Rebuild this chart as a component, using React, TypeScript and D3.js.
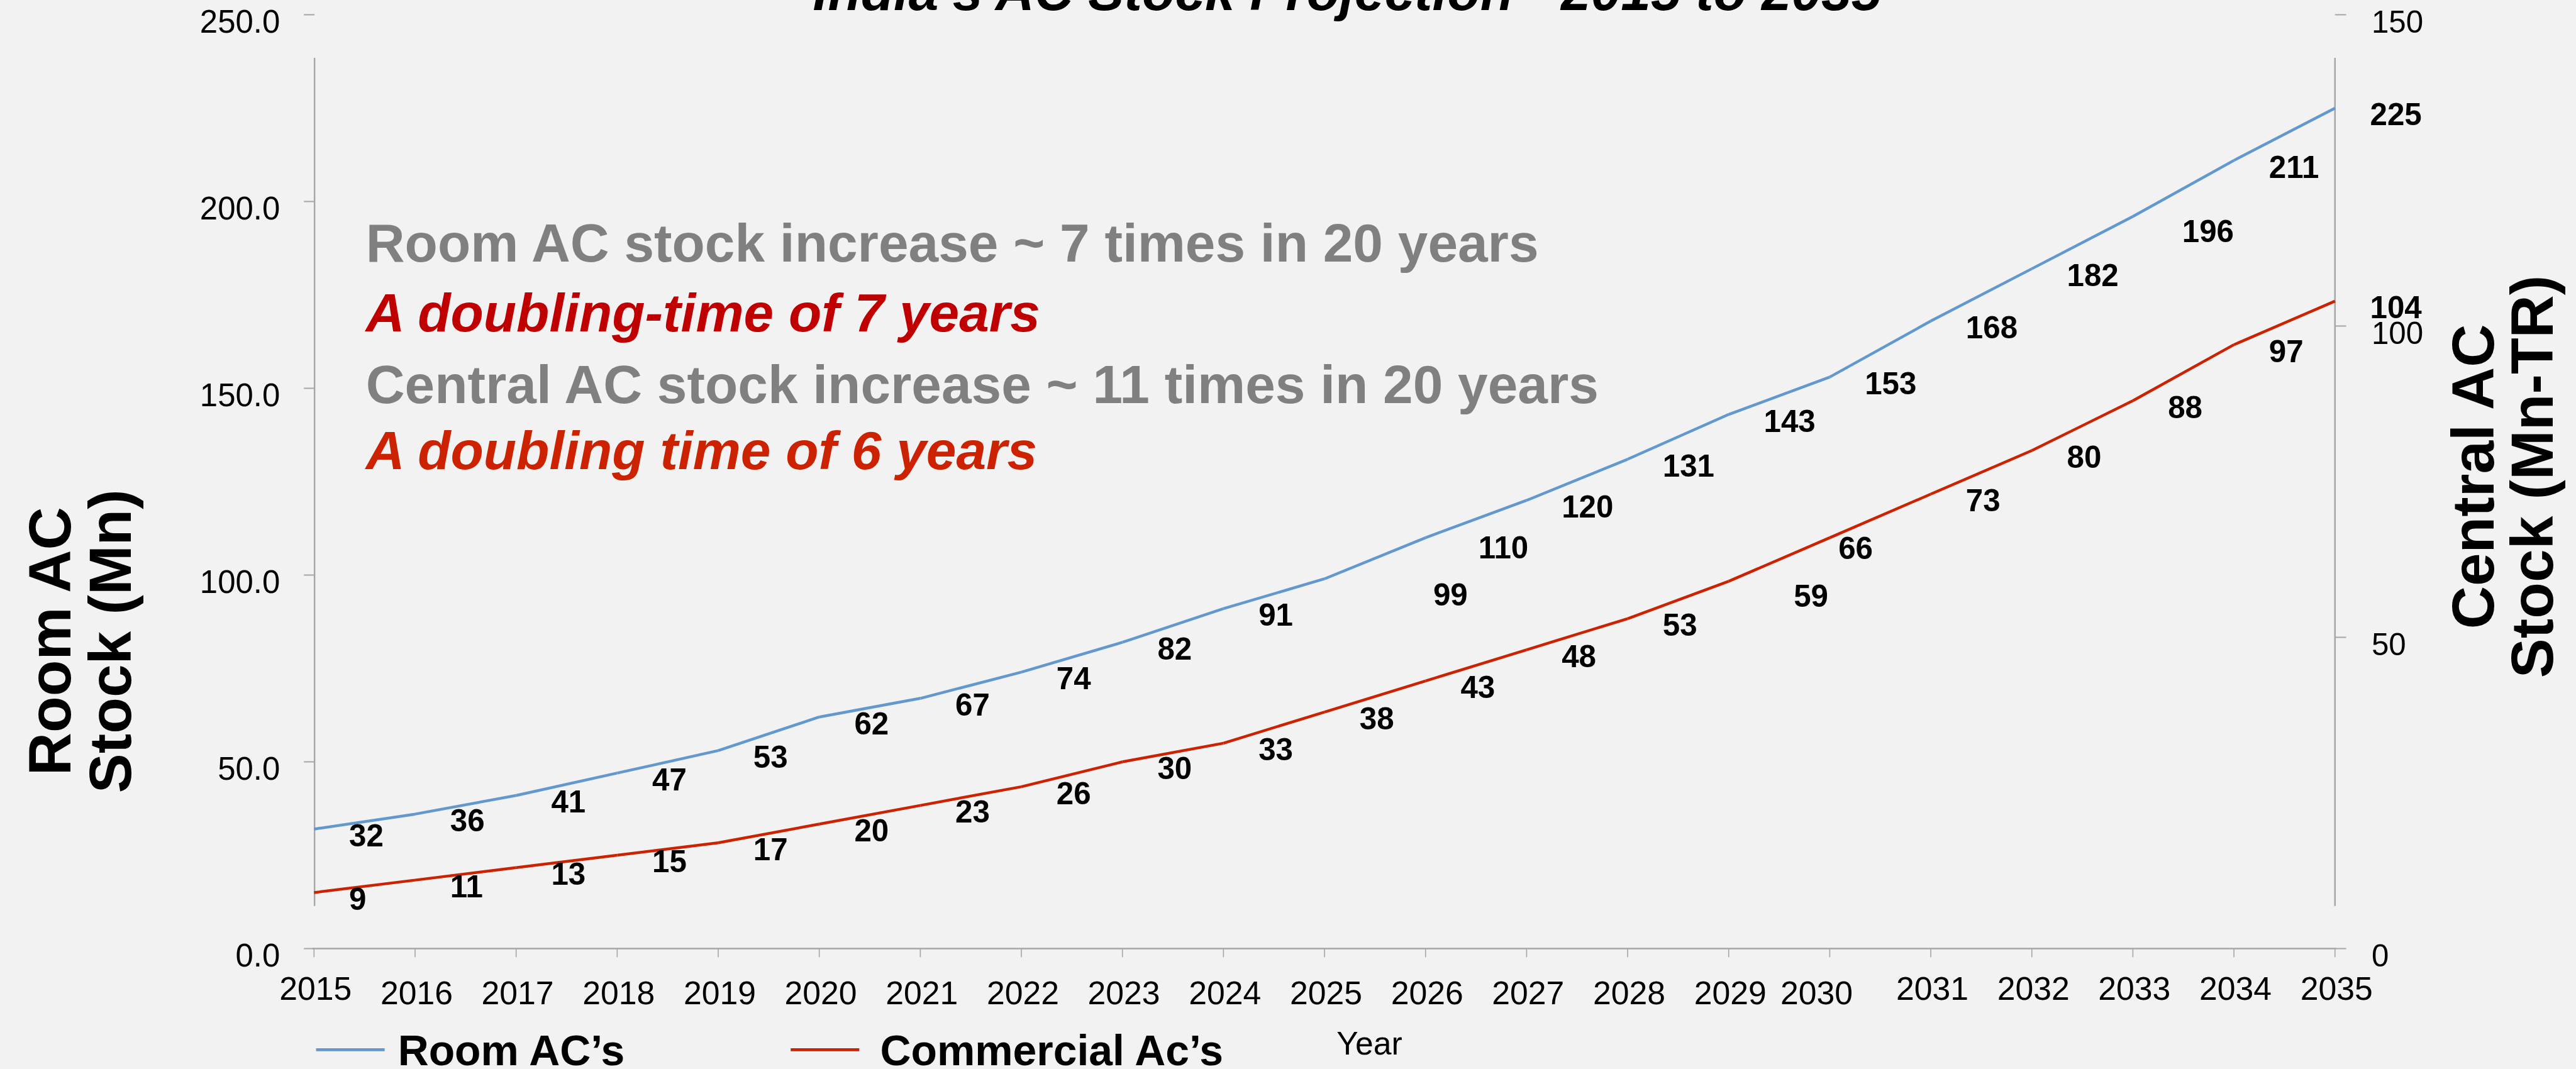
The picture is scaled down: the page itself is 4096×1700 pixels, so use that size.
import React from "react";
import * as d3 from "d3";

// ---- data ----
const years = [2015, 2016, 2017, 2018, 2019, 2020, 2021, 2022, 2023, 2024, 2025, 2026, 2027, 2028, 2029, 2030, 2031, 2032, 2033, 2034, 2035];
const roomAC = [32, 36, 41, 47, 53, 62, 67, 74, 82, 91, 99, 110, 120, 131, 143, 153, 168, 182, 196, 211, 225];
const commercialAC = [9, 11, 13, 15, 17, 20, 23, 26, 30, 33, 38, 43, 48, 53, 59, 66, 73, 80, 88, 97, 104];
const leftTicks = [0, 50, 100, 150, 200, 250];
const rightTicks = [0, 50, 100, 150];
const titleText = "India\u2019s AC Stock Projection - 2015 to 2035";
const notes = [
  "Room AC stock increase ~ 7 times in 20 years",
  "A doubling-time of 7 years",
  "Central AC stock increase ~ 11 times in 20 years",
  "A doubling time of 6 years",
];
const seriesNames = ["Room AC\u2019s", "Commercial Ac\u2019s"];

// ---- layout (reference pixel space, scaled by S) ----
const S = 0.808;
const FONT = "'Liberation Sans', Arial, Helvetica, sans-serif";
const BLUE = "#6398CE";
const RED = "#CC2200";
const AXIS = "#A6A6A6";
const noteStyles = [
  { fill: "#808080", italic: false },
  { fill: "#C00000", italic: true },
  { fill: "#808080", italic: false },
  { fill: "#CC2200", italic: true },
];
// manual nudges of a few data labels (dx, dy) as in the source
const roomNudge: Record<number, [number, number]> = { 2025: [145, 19], 2026: [35, 7], 2033: [28, 16] };
const comNudge: Record<number, [number, number]> = { 2029: [59, 16], 2030: [-52, 8] };
const raisedYearLabels = new Set([2015, 2031, 2032, 2033, 2034, 2035]);

export default function App() {
  const x = d3.scaleLinear().domain([2015, 2035]).range([618, 4595]);
  const yL = d3.scaleLinear().domain([0, 250]).range([1867, 29]);
  const yR = d3.scaleLinear().domain([0, 150]).range([1867, 29]);
  const fmt = d3.format(".1f");
  const seg = d3.line<[number, number]>();

  const segments = (vals: number[], y: d3.ScaleLinear<number, number>, color: string, key: string) =>
    vals.slice(0, -1).map((v, i) => (
      <path
        key={key + i}
        d={seg([[x(years[i]), y(v)], [x(years[i + 1]), y(vals[i + 1])]]) || ""}
        stroke={color}
        strokeWidth={5.5}
        fill="none"
        strokeLinecap="butt"
      />
    ));

  const labels = (vals: number[], y: d3.ScaleLinear<number, number>, nudge: Record<number, [number, number]>, key: string) =>
    vals.map((v, i) => {
      const n = nudge[years[i]] || [0, 0];
      return (
        <text
          key={key + i}
          x={x(years[i]) + 69 + n[0]}
          y={y(v) + 34 + n[1]}
          fontSize={61}
          fontWeight="bold"
          fill="#000"
        >
          {v}
        </text>
      );
    });

  return (
    <svg
      width={4096}
      height={1700}
      style={{ position: "absolute", left: 0, top: 0, display: "block" }}
    >
      <rect x={0} y={0} width={4096} height={1700} fill="#F2F2F2" />
      <g transform={`scale(${S})`} fontFamily={FONT}>
        {/* title (mostly above the top edge) */}
        <text x={2651} y={20} fontSize={106} fontWeight="bold" fontStyle="italic" textAnchor="middle" fill="#000">
          {titleText}
        </text>

        {/* axes */}
        <line x1={619} x2={619} y1={114} y2={1783} stroke={AXIS} strokeWidth={3} />
        <line x1={4595} x2={4595} y1={114} y2={1783} stroke={AXIS} strokeWidth={3} />
        <line x1={615} x2={4597} y1={x.range()[0] ? 1867 : 1867} y2={1867} stroke={AXIS} strokeWidth={3} />
        {leftTicks.map((t) => (
          <g key={"lt" + t}>
            <line x1={598} x2={619} y1={yL(t)} y2={yL(t)} stroke={AXIS} strokeWidth={2.5} />
            <text x={551} y={yL(t) + 35} fontSize={63} textAnchor="end" fill="#000">
              {fmt(t)}
            </text>
          </g>
        ))}
        {rightTicks.map((t) => (
          <g key={"rt" + t}>
            <line x1={4595} x2={4617} y1={yR(t)} y2={yR(t)} stroke={AXIS} strokeWidth={2.5} />
            <text x={4667} y={yR(t) + 35} fontSize={61} textAnchor="start" fill="#000">
              {t}
            </text>
          </g>
        ))}
        {years.map((yr) => (
          <g key={"xt" + yr}>
            <line x1={x(yr)} x2={x(yr)} y1={1867} y2={1884} stroke={AXIS} strokeWidth={2} />
            <text
              x={x(yr) + (yr === 2030 ? -26 : 3)}
              y={raisedYearLabels.has(yr) ? 1968 : 1977}
              fontSize={64}
              textAnchor="middle"
              fill="#000"
            >
              {yr}
            </text>
          </g>
        ))}

        {/* axis titles */}
        <text transform="translate(138,1262) rotate(-90)" fontSize={117} fontWeight="bold" textAnchor="middle" fill="#000">
          <tspan x={0} y={0}>Room AC</tspan>
          <tspan x={0} y={119}>Stock (Mn)</tspan>
        </text>
        <text transform="translate(4907,938) rotate(-90)" fontSize={117} fontWeight="bold" textAnchor="middle" fill="#000">
          <tspan x={0} y={0}>Central AC</tspan>
          <tspan x={0} y={116}>Stock (Mn-TR)</tspan>
        </text>
        <text x={2695} y={2075} fontSize={64} textAnchor="middle" fill="#000">Year</text>

        {/* notes */}
        {notes.map((t, i) => (
          <text
            key={"n" + i}
            x={720}
            y={[515, 652, 793, 923][i]}
            fontSize={106}
            fontWeight="bold"
            fontStyle={noteStyles[i].italic ? "italic" : "normal"}
            fill={noteStyles[i].fill}
          >
            {t}
          </text>
        ))}

        {/* series */}
        {segments(roomAC, yL, BLUE, "r")}
        {segments(commercialAC, yR, RED, "c")}
        {labels(roomAC, yL, roomNudge, "rl")}
        {labels(commercialAC, yR, comNudge, "cl")}

        {/* legend */}
        <line x1={622} x2={757} y1={2066} y2={2066} stroke={BLUE} strokeWidth={6} />
        <text x={783} y={2097} fontSize={84} fontWeight="bold" fill="#000">{seriesNames[0]}</text>
        <line x1={1556} x2={1691} y1={2066} y2={2066} stroke={RED} strokeWidth={6} />
        <text x={1732} y={2097} fontSize={84} fontWeight="bold" fill="#000">{seriesNames[1]}</text>
      </g>
    </svg>
  );
}
